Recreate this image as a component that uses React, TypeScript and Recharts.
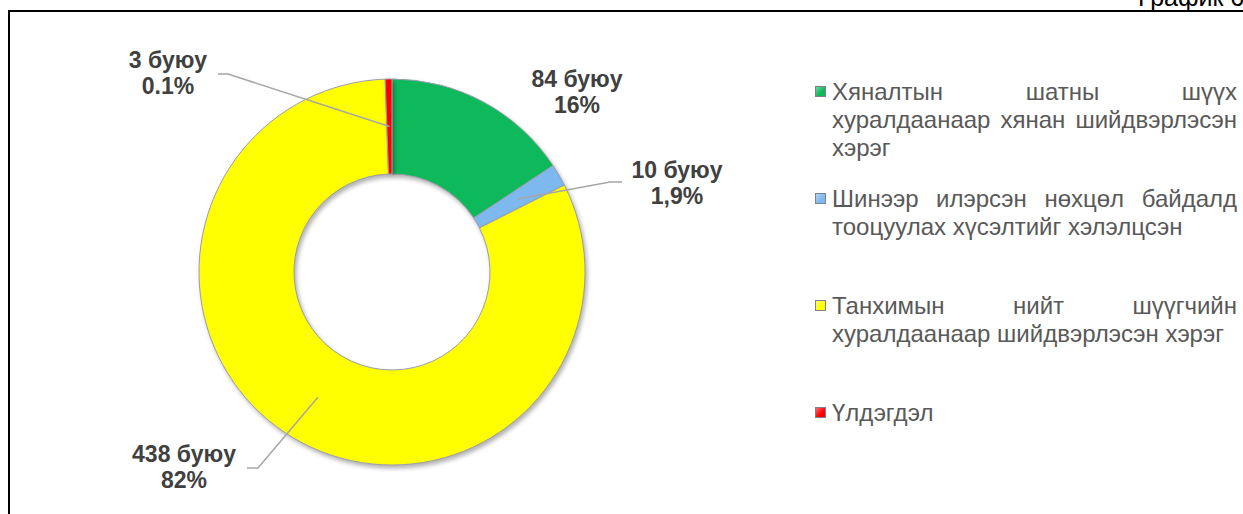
import React from "react";
import { Cell, Legend, Pie, PieChart } from "recharts";

// legend text, already split where the original breaks its lines
const categoryLines: string[][] = [
  ["Хяналтын шатны шүүх", "хуралдаанаар хянан шийдвэрлэсэн", "хэрэг"],
  ["Шинээр илэрсэн нөхцөл байдалд", "тооцуулах хүсэлтийг хэлэлцсэн"],
  ["Танхимын нийт шүүгчийн", "хуралдаанаар шийдвэрлэсэн хэрэг"],
  ["Үлдэгдэл"],
];
const caseCounts = [84, 10, 438, 3];
const shareLabels = ["16%", "1,9%", "82%", "0.1%"];
const sliceColors = ["#0DB95B", "#7DB8EE", "#FFFF00", "#FF0000"];

const data = categoryLines.map((lines, i) => ({
  name: lines.join(" "),
  value: caseCounts[i],
  share: shareLabels[i],
}));

// where each data label sits and where its leader line bends
const labelPlace = [
  { x: 577, y: 87, leader: null as null | number[] },
  { x: 677, y: 178, leader: [622, 182, 610] },
  { x: 184, y: 462, leader: [247, 468, 258] },
  { x: 168, y: 68, leader: [218, 74, 228] },
];

const RADIAN = Math.PI / 180;
const FONT = "'Liberation Sans', Arial, sans-serif";

function SliceLabel(props: any) {
  const { cx, cy, midAngle, innerRadius, outerRadius, index, value } = props;
  const place = labelPlace[index];
  const r = (innerRadius + outerRadius) / 2;
  const ex = cx + r * Math.cos(-midAngle * RADIAN);
  const ey = cy + r * Math.sin(-midAngle * RADIAN);
  return (
    <g>
      {place.leader ? (
        <polyline
          points={`${place.leader[0]},${place.leader[1]} ${place.leader[2]},${place.leader[1]} ${ex},${ey}`}
          fill="none"
          stroke="#A6A6A6"
          strokeWidth={1.5}
        />
      ) : null}
      <text
        x={place.x}
        y={place.y}
        textAnchor="middle"
        fill="#404040"
        fontFamily={FONT}
        fontWeight="bold"
        fontSize={23}
      >
        <tspan x={place.x}>{`${value} буюу`}</tspan>
        <tspan x={place.x} dy={26}>
          {shareLabels[index]}
        </tspan>
      </text>
    </g>
  );
}

function SideLegend() {
  return (
    <div style={{ fontFamily: FONT, fontSize: 24, color: "#595959", lineHeight: "28px" }}>
      {categoryLines.map((lines, i) => (
        <div key={i} style={{ position: "relative", height: 107 }}>
          <div
            style={{
              position: "absolute",
              left: 2,
              top: 8,
              width: 9,
              height: 9,
              border: "1px solid #80808F",
              background: `linear-gradient(135deg, #ffffff66, ${sliceColors[i]} 60%)`,
              backgroundColor: sliceColors[i],
            }}
          />
          <div style={{ marginLeft: 19, width: 405 }}>
            {lines.map((line, j) => (
              <div
                key={j}
                style={{
                  textAlign: j < lines.length - 1 ? "justify" : "left",
                  textAlignLast: j < lines.length - 1 ? "justify" : "left",
                  whiteSpace: "nowrap",
                }}
              >
                {line}
              </div>
            ))}
          </div>
        </div>
      ))}
    </div>
  );
}

export default function App() {
  return (
    <div
      style={{
        position: "absolute",
        left: 0,
        top: 0,
        width: 1243,
        height: 514,
        overflow: "hidden",
        background: "#fff",
      }}
    >
      <style>{".recharts-pie-sector path{filter:drop-shadow(2px 3px 2px rgba(0,0,0,0.3))}"}</style>
      <div
        style={{
          position: "absolute",
          left: 1138,
          top: -18,
          fontFamily: FONT,
          fontSize: 25,
          lineHeight: "30px",
          color: "#000",
          whiteSpace: "nowrap",
        }}
      >
        График 6
      </div>
      <div
        style={{
          position: "absolute",
          left: 8,
          top: 10,
          width: 1400,
          height: 700,
          borderLeft: "2px solid #000",
          borderTop: "2px solid #000",
        }}
      />
      <div style={{ position: "absolute", left: 0, top: 0 }}>
        <PieChart width={1243} height={514} margin={{ top: 0, right: 0, bottom: 0, left: 0 }}>
          <Pie
            data={data}
            dataKey="value"
            nameKey="name"
            cx={392}
            cy={272}
            innerRadius={98}
            outerRadius={193}
            startAngle={90}
            endAngle={-270}
            stroke="#9C9CAC"
            strokeWidth={1}
            label={SliceLabel}
            labelLine={false}
            isAnimationActive={false}
          >
            {data.map((_, i) => (
              <Cell key={`slice-${i}`} fill={sliceColors[i]} />
            ))}
          </Pie>
          <Legend
            content={() => <SideLegend />}
            wrapperStyle={{ left: 813, top: 78, width: 424 }}
          />
        </PieChart>
      </div>
    </div>
  );
}
